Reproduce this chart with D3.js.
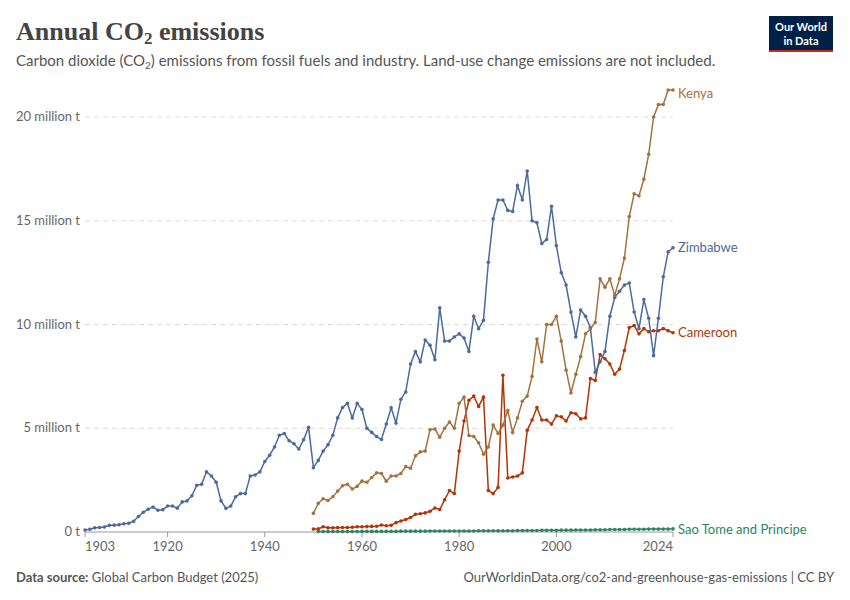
<!DOCTYPE html>
<meta charset="utf-8">
<style>
body { margin: 0; background: #fff; }
text { font-family: Lato, "Noto Sans", sans-serif; }
.grid line { stroke: #ddd; stroke-dasharray: 5,4; }
</style>
<svg width="850" height="600"></svg>
<script src="https://d3js.org/d3.v7.min.js"></script>
<script>

// values in million tonnes
var zimbabwe = [0.1,0.13,0.2,0.22,0.24,0.32,0.33,0.35,0.4,0.42,
  0.52,0.75,0.95,1.1,1.2,1.05,1.07,1.25,1.25,1.15,
  1.45,1.5,1.75,2.25,2.3,2.9,2.7,2.4,1.5,1.14,
  1.25,1.7,1.85,1.85,2.7,2.75,2.9,3.4,3.7,4.1,
  4.66,4.75,4.4,4.25,4.0,4.45,5.05,3.1,3.45,3.9,
  4.2,4.66,5.5,6.0,6.2,5.5,6.2,5.9,5.0,4.8,
  4.6,4.46,5.2,5.99,5.25,6.4,6.75,8.1,8.7,8.2,
  9.25,9.0,8.3,10.8,9.2,9.2,9.4,9.55,9.35,8.7,
  10.4,9.8,10.2,13.0,15.1,16.0,16.0,15.5,15.45,16.7,
  16.0,17.4,15.0,14.9,13.9,14.1,15.7,13.8,12.5,11.9,
  10.6,9.4,10.7,10.4,9.85,7.7,8.2,8.7,10.4,11.3,
  11.6,11.9,12.0,10.6,9.8,11.2,10.3,8.5,10.3,12.3,
  13.5,13.7];
var kenya = [0.9,1.38,1.6,1.52,1.7,1.97,2.23,2.3,2.07,2.2,
  2.45,2.4,2.63,2.85,2.82,2.45,2.7,2.7,2.82,3.15,
  3.07,3.67,3.86,3.9,4.93,4.96,4.57,5.0,5.3,5.0,
  6.2,6.5,4.65,4.6,4.3,3.75,4.1,5.15,4.75,5.15,
  5.85,4.8,5.5,6.3,6.55,7.5,9.3,8.2,10.0,10.0,
  10.4,9.2,7.8,6.7,7.6,8.45,9.55,9.8,10.1,12.2,
  11.8,12.2,11.4,12.2,13.2,15.2,16.3,16.2,17.0,18.2,
  20.0,20.6,20.6,21.3,21.3];
var cameroon = [0.14,0.15,0.25,0.2,0.2,0.21,0.22,0.22,0.23,0.25,
  0.25,0.26,0.27,0.28,0.34,0.3,0.32,0.45,0.53,0.6,
  0.7,0.85,0.88,0.92,1.0,1.16,1.08,1.55,2.0,1.85,
  3.9,5.35,6.35,6.55,6.05,6.5,2.0,1.85,2.15,7.55,
  2.6,2.65,2.7,2.85,4.9,5.4,6.0,5.4,5.4,5.2,
  5.6,5.55,5.35,5.75,5.7,5.45,5.5,7.4,7.3,8.55,
  8.35,8.1,7.6,7.85,8.75,9.85,9.95,9.55,9.8,9.65,
  9.7,9.7,9.8,9.7,9.6];
var saoTome = [0.02,0.02,0.02,0.02,0.02,0.02,0.02,0.02,0.02,0.03,
  0.03,0.03,0.03,0.03,0.03,0.03,0.03,0.04,0.04,0.04,
  0.04,0.04,0.04,0.05,0.05,0.05,0.05,0.05,0.05,0.05,
  0.05,0.05,0.05,0.06,0.06,0.06,0.06,0.06,0.06,0.06,
  0.06,0.07,0.07,0.07,0.07,0.07,0.08,0.08,0.08,0.08,
  0.09,0.09,0.09,0.1,0.1,0.1,0.1,0.11,0.11,0.11,
  0.12,0.12,0.12,0.12,0.13,0.13,0.13,0.13,0.14,0.14,
  0.14,0.14,0.14,0.15];
var series = [
  {name: "Kenya", start: 1950, values: kenya, color: "#a2733f"},
  {name: "Zimbabwe", start: 1903, values: zimbabwe, color: "#4c6a9c"},
  {name: "Cameroon", start: 1950, values: cameroon, color: "#b13507"},
  {name: "Sao Tome and Principe", start: 1951, values: saoTome, color: "#2c8465"}
];
var yTicks = [0, 5, 10, 15, 20];
var xTicks = [1903, 1920, 1940, 1960, 1980, 2000, 2024];

var svg = d3.select("svg");
var x = d3.scaleLinear().domain([1903, 2024]).range([85, 673]);
var y = d3.scaleLinear().domain([0, 20]).range([532, 117]);

svg.append("text").attr("x", 16).attr("y", 40)
  .style("font-family", "'Liberation Serif', 'DejaVu Serif', serif")
  .style("font-size", "26px").style("font-weight", "bold").style("fill", "#444")
  .html("Annual CO<tspan font-size='17' dy='4'>2</tspan><tspan dy='-4'> emissions</tspan>");
svg.append("text").attr("x", 16).attr("y", 66).style("font-size", "15px").style("fill", "#555")
  .html("Carbon dioxide (CO<tspan font-size='10' dy='3'>2</tspan><tspan dy='-3'>) emissions from fossil fuels and industry. Land-use change emissions are not included.</tspan>");

// logo
svg.append("rect").attr("x", 769).attr("y", 16).attr("width", 64).attr("height", 36).attr("fill", "#002147");
svg.append("rect").attr("x", 769).attr("y", 50).attr("width", 64).attr("height", 2).attr("fill", "#ce261e");
svg.append("text").attr("x", 801).attr("y", 31).attr("text-anchor", "middle").style("font-size", "11px").style("font-weight", "bold").style("fill", "#fff").text("Our World");
svg.append("text").attr("x", 801).attr("y", 45).attr("text-anchor", "middle").style("font-size", "11px").style("font-weight", "bold").style("fill", "#fff").text("in Data");

// grid + y labels
var grid = svg.append("g").attr("class", "grid");
grid.selectAll("line").data(yTicks.slice(1)).enter().append("line")
  .attr("x1", 85).attr("x2", 673).attr("y1", function(d) { return y(d); }).attr("y2", function(d) { return y(d); });
svg.selectAll(".ylab").data(yTicks).enter().append("text")
  .attr("x", 80).attr("y", function(d) { return y(d) + 4; }).attr("text-anchor", "end")
  .style("font-size", "13px").style("fill", "#666")
  .text(function(d) { return d === 0 ? "0 t" : d + " million t"; });

// x axis
svg.append("line").attr("x1", 85).attr("x2", 673).attr("y1", 532).attr("y2", 532).attr("stroke", "#999");
svg.selectAll(".xt").data(xTicks).enter().append("line")
  .attr("x1", function(d) { return x(d); }).attr("x2", function(d) { return x(d); })
  .attr("y1", 532).attr("y2", 537).attr("stroke", "#999");
svg.selectAll(".xlab").data(xTicks).enter().append("text")
  .attr("x", function(d) { return x(d); }).attr("y", 551)
  .attr("text-anchor", function(d, i) { return i === 0 ? "start" : (i === xTicks.length - 1 ? "end" : "middle"); })
  .style("font-size", "13px").style("fill", "#666").text(function(d) { return d; });

var line = d3.line().x(function(d) { return x(d.year); }).y(function(d) { return y(d.v); });
var labelY = {"Kenya": 94, "Zimbabwe": 248, "Cameroon": 333, "Sao Tome and Principe": 530};
series.slice().reverse().forEach(function(s) {
  var pts = s.values.map(function(v, i) { return {year: s.start + i, v: v}; });
  svg.append("path").datum(pts).attr("d", line).attr("fill", "none").attr("stroke", s.color).attr("stroke-width", 1.5);
  svg.append("g").selectAll("circle").data(pts).enter().append("circle")
    .attr("cx", function(d) { return x(d.year); }).attr("cy", function(d) { return y(d.v); })
    .attr("r", 1.8).attr("fill", s.color);
  svg.append("text").attr("x", 678).attr("y", labelY[s.name] + 4)
    .style("font-size", "13px").style("fill", s.color).text(s.name);
});

// footer
svg.append("text").attr("x", 16).attr("y", 582).style("font-size", "13px").style("fill", "#555")
  .html("<tspan font-weight='bold'>Data source:</tspan> Global Carbon Budget (2025)");
svg.append("text").attr("x", 834).attr("y", 582).attr("text-anchor", "end").style("font-size", "13px").style("fill", "#555")
  .text("OurWorldinData.org/co2-and-greenhouse-gas-emissions | CC BY");
</script>
